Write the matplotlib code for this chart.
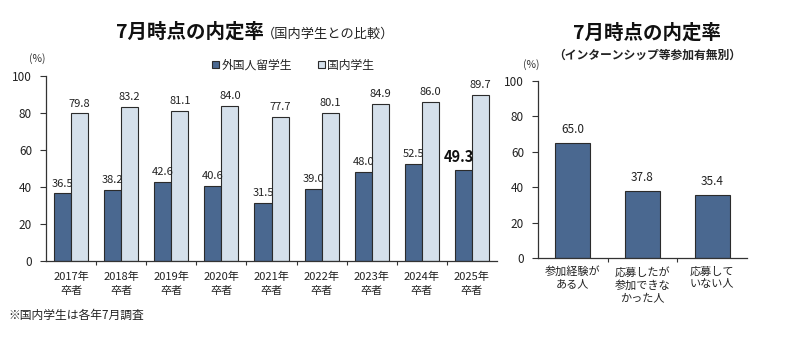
import matplotlib
matplotlib.use("Agg")
import matplotlib.pyplot as plt
from matplotlib.patches import Patch
import numpy as np

plt.rcParams['font.family'] = ['Noto Sans CJK JP', 'DejaVu Sans']

years = ["2017年\n卒者", "2018年\n卒者", "2019年\n卒者", "2020年\n卒者", "2021年\n卒者",
         "2022年\n卒者", "2023年\n卒者", "2024年\n卒者", "2025年\n卒者"]
foreign = [36.5, 38.2, 42.6, 40.6, 31.5, 39.0, 48.0, 52.5, 49.3]
domestic = [79.8, 83.2, 81.1, 84.0, 77.7, 80.1, 84.9, 86.0, 89.7]

intern_cats = ["参加経験が\nある人", "応募したが\n参加できな\nかった人", "応募して\nいない人"]
intern_vals = [65.0, 37.8, 35.4]

yticks = [0, 20, 40, 60, 80, 100]

DARK = "#4a6890"
LIGHT = "#d5e0eb"
EDGE = "#2b2b2b"

W, H = 805, 344
fig = plt.figure(figsize=(W / 100, H / 100), dpi=100)
fig.patch.set_facecolor("white")


def fx(px):
    return px / W


def fy(py):
    return 1 - py / H


def style_axes(ax, xpad):
    for s in ["top", "right"]:
        ax.spines[s].set_visible(False)
    for s in ["left", "bottom"]:
        ax.spines[s].set_color("#333333")
        ax.spines[s].set_linewidth(0.9)
    ax.set_ylim(0, 100)
    ax.set_yticks(yticks)
    ax.tick_params(axis="y", direction="out", length=4, width=0.8, colors="#333333",
                   labelsize=8.5, labelcolor="#222222", pad=6)
    ax.tick_params(axis="x", which="major", length=0, labelsize=8, labelcolor="#222222", pad=xpad)
    ax.tick_params(axis="x", which="minor", direction="out", length=3, width=0.8, colors="#333333")


# Left chart
ax1 = fig.add_axes([fx(46), fy(261), fx(497) - fx(46), fy(76) - fy(261)])
x = np.arange(len(years))
bw = 0.34
b1 = ax1.bar(x - bw / 2, foreign, bw, color=DARK, edgecolor=EDGE, linewidth=0.8, label="外国人留学生")
b2 = ax1.bar(x + bw / 2, domestic, bw, color=LIGHT, edgecolor=EDGE, linewidth=0.8, label="国内学生")
ax1.set_xlim(-0.5, len(years) - 0.5)
ax1.set_xticks(x)
ax1.set_xticklabels(years, linespacing=1.45)
ax1.set_xticks(np.arange(len(years) - 1) + 0.5, minor=True)
style_axes(ax1, 8)

for i, (rect, v) in enumerate(zip(b1, foreign)):
    last = i == len(foreign) - 1
    ax1.annotate(f"{v:.1f}", (rect.get_x() + rect.get_width() / 2, v),
                 xytext=(-3 if last else 0, 3.5), textcoords="offset points", ha="center", va="bottom",
                 fontsize=10.5 if last else 8, fontweight="bold" if last else "normal",
                 color="#111111" if last else "#222222")
for rect, v in zip(b2, domestic):
    ax1.annotate(f"{v:.1f}", (rect.get_x() + rect.get_width() / 2, v),
                 xytext=(0, 3.5), textcoords="offset points", ha="center", va="bottom",
                 fontsize=8, color="#222222")

handles = [Patch(facecolor=DARK, edgecolor=EDGE, linewidth=0.8, label="外国人留学生"),
           Patch(facecolor=LIGHT, edgecolor=EDGE, linewidth=0.8, label="国内学生")]
fig.legend(handles=handles, loc="center", bbox_to_anchor=(fx(293), fy(65)), ncol=2,
           frameon=False, fontsize=8.5, handlelength=0.6, handleheight=0.6,
           handletextpad=0.15, columnspacing=2.2, labelcolor="#222222")

fig.text(fx(264), fy(38), "7月時点の内定率", ha="right", va="baseline",
         fontsize=14, fontweight="bold", color="#111111")
fig.text(fx(262), fy(38), "（国内学生との比較）", ha="left", va="baseline",
         fontsize=9.5, color="#222222")
fig.text(fx(37), fy(59), "(%)", ha="center", va="center", fontsize=7.5, color="#333333")

# Right chart
ax2 = fig.add_axes([fx(538), fy(258), fx(747) - fx(538), fy(81) - fy(258)])
x2 = np.arange(len(intern_cats))
b3 = ax2.bar(x2, intern_vals, 0.5, color=DARK, edgecolor=EDGE, linewidth=0.8)
ax2.set_xlim(-0.5, len(intern_cats) - 0.5)
ax2.set_xticks(x2)
ax2.set_xticklabels(intern_cats, linespacing=1.3)
ax2.set_xticks(np.arange(len(intern_cats) - 1) + 0.5, minor=True)
style_axes(ax2, 6)
for rect, v in zip(b3, intern_vals):
    ax2.annotate(f"{v:.1f}", (rect.get_x() + rect.get_width() / 2, v),
                 xytext=(0, 5), textcoords="offset points", ha="center", va="bottom",
                 fontsize=8.5, color="#222222")

fig.text(fx(647), fy(33), "7月時点の内定率", ha="center", va="center",
         fontsize=14, fontweight="bold", color="#111111")
fig.text(fx(647), fy(55), "（インターンシップ等参加有無別）", ha="center", va="center",
         fontsize=8.5, fontweight="bold", color="#222222")
fig.text(fx(531), fy(65), "(%)", ha="center", va="center", fontsize=7.5, color="#333333")

fig.text(fx(8), fy(315), "※国内学生は各年7月調査", ha="left", va="center",
         fontsize=8.5, color="#222222")

fig.savefig("out.png", dpi=100, facecolor="white")
